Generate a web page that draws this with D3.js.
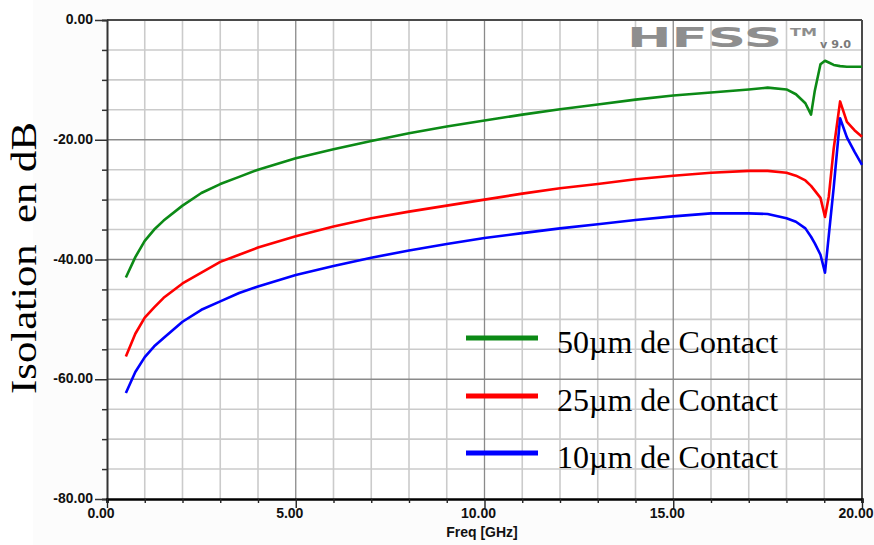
<!DOCTYPE html>
<html>
<head>
<meta charset="utf-8">
<script src="https://cdn.jsdelivr.net/npm/d3@7/dist/d3.min.js"></script>
<style>
  html, body { margin: 0; padding: 0; background: #ffffff; }
  svg { display: block; }
</style>
</head>
<body>
<svg id="chart" width="874" height="545"></svg>
<script>
// Frequency sweep (GHz) shared by all three contact widths
const freq = [0.5, 0.75, 1.0, 1.25, 1.5, 2.0, 2.5, 3.0, 3.5, 4.0, 5.0, 6.0, 7.0, 8.0, 9.0,
  10.0, 11.0, 12.0, 13.0, 14.0, 15.0, 16.0, 17.0, 17.5, 18.0, 18.25, 18.5, 18.65, 18.75,
  18.9, 19.02, 19.12, 19.25, 19.42, 19.6, 19.8, 20.0];

// Isolation (dB) for each contact width
const iso50 = [-43.0, -39.6, -36.9, -35.0, -33.5, -31.0, -28.9, -27.4, -26.2, -25.0, -23.1,
  -21.6, -20.2, -18.9, -17.8, -16.8, -15.8, -14.9, -14.1, -13.3, -12.6, -12.1, -11.6,
  -11.3, -11.6, -12.4, -13.9, -15.8, -11.8, -7.4, -6.8, -7.1, -7.5, -7.7, -7.8, -7.8, -7.8];
const iso25 = [-56.2, -52.4, -49.7, -48.0, -46.4, -44.0, -42.2, -40.4, -39.2, -38.0, -36.1,
  -34.5, -33.1, -32.0, -31.0, -30.0, -29.0, -28.1, -27.4, -26.6, -26.0, -25.5, -25.2,
  -25.2, -25.5, -26.0, -26.8, -27.7, -28.5, -29.7, -32.9, -29.5, -21.5, -13.6, -17.0, -18.4, -19.5];
const iso10 = [-62.3, -58.8, -56.3, -54.5, -53.1, -50.4, -48.4, -47.0, -45.6, -44.5, -42.6,
  -41.1, -39.7, -38.5, -37.4, -36.4, -35.6, -34.8, -34.1, -33.4, -32.8, -32.3, -32.3,
  -32.4, -33.1, -33.7, -34.8, -36.2, -37.3, -39.2, -42.2, -36.0, -28.0, -16.4, -19.6, -22.0, -24.2];

const seriesNames = ["50\u00b5m de Contact", "25\u00b5m de Contact", "10\u00b5m de Contact"];
const seriesColors = ["#0c8a16", "#ff0000", "#0000ff"];

const xTicks = [0, 5, 10, 15, 20];
const xTickLabels = ["0.00", "5.00", "10.00", "15.00", "20.00"];
const yTicks = [0, -20, -40, -60, -80];
const yTickLabels = ["0.00", "-20.00", "-40.00", "-60.00", "-80.00"];

const xTitle = "Freq [GHz]";
const yTitle = "Isolation\u00a0 en dB";

const svg = d3.select("#chart");

const x = d3.scaleLinear().domain([0, 20]).range([107, 862]);
const y = d3.scaleLinear().domain([-80, 0]).range([499, 20]);

// faint page tint to the right of the title strip
svg.append("rect").attr("x", 33).attr("y", 0).attr("width", 841).attr("height", 545)
  .attr("fill", "#fcfcfc");
svg.append("rect").attr("x", x(0)).attr("y", y(0))
  .attr("width", x(20) - x(0)).attr("height", y(-80) - y(0)).attr("fill", "#ffffff");

// minor grid: every 1 GHz and every 5 dB
const g = svg.append("g");
g.selectAll("line.vmin").data(d3.range(1, 20).filter(d => d % 5 !== 0))
  .join("line").attr("x1", d => x(d)).attr("x2", d => x(d))
  .attr("y1", y(0)).attr("y2", y(-80))
  .attr("stroke", "#cbcbcb").attr("stroke-width", 1.6);
g.selectAll("line.hmin").data(d3.range(-75, 0, 5).filter(d => d % 20 !== 0))
  .join("line").attr("y1", d => y(d)).attr("y2", d => y(d))
  .attr("x1", x(0)).attr("x2", x(20))
  .attr("stroke", "#cbcbcb").attr("stroke-width", 1.6);
// major grid
g.selectAll("line.vmaj").data([5, 10, 15])
  .join("line").attr("x1", d => x(d)).attr("x2", d => x(d))
  .attr("y1", y(0)).attr("y2", y(-80))
  .attr("stroke", "#8a8a8a").attr("stroke-width", 1.3);
g.selectAll("line.hmaj").data([-20, -40, -60])
  .join("line").attr("y1", d => y(d)).attr("y2", d => y(d))
  .attr("x1", x(0)).attr("x2", x(20))
  .attr("stroke", "#8a8a8a").attr("stroke-width", 1.3);

// HFSS logo
const logo = svg.append("g").attr("fill", "#8e8e8e")
  .style("font-family", "'DejaVu Sans', Arial, sans-serif").style("font-weight", "bold");
logo.append("text").attr("x", 627).attr("y", 47).attr("font-size", 26)
  .attr("textLength", 155).attr("lengthAdjust", "spacingAndGlyphs").text("HFSS");
logo.append("text").attr("x", 790).attr("y", 36).attr("font-size", 10)
  .attr("textLength", 27).attr("lengthAdjust", "spacingAndGlyphs").text("TM");
logo.append("text").attr("x", 820).attr("y", 48).attr("font-size", 10)
  .attr("fill", "#7a7a7a")
  .attr("textLength", 31).attr("lengthAdjust", "spacingAndGlyphs").text("v 9.0");

// frame: top and right borders, left and bottom axes
svg.append("line").attr("x1", x(0)).attr("x2", x(20)).attr("y1", y(0)).attr("y2", y(0))
  .attr("stroke", "#4a4a4a").attr("stroke-width", 2);
svg.append("line").attr("x1", x(20)).attr("x2", x(20)).attr("y1", y(0)).attr("y2", y(-80))
  .attr("stroke", "#4a4a4a").attr("stroke-width", 2);

// left axis with 5 dB minor ticks
const yAxis = d3.axisLeft(y).tickValues(d3.range(-80, 1, 5))
  .tickSize(5).tickFormat("");
const ya = svg.append("g").attr("transform", `translate(${x(0)},0)`).call(yAxis);
ya.select(".domain").attr("stroke", "#333").attr("stroke-width", 2);
ya.selectAll(".tick line").attr("stroke", "#333").attr("stroke-width", 1.5)
  .attr("x2", d => (d % 20 === 0 ? -12 : -5));

// bottom axis with 1 GHz minor ticks
const xAxis = d3.axisBottom(x).tickValues(d3.range(0, 21, 1)).tickSize(4).tickFormat("");
const xa = svg.append("g").attr("transform", `translate(0,${y(-80)})`).call(xAxis);
xa.select(".domain").attr("stroke", "#000").attr("stroke-width", 2.6);
xa.selectAll(".tick line").attr("stroke", "#222").attr("stroke-width", 1.4)
  .attr("y2", d => (d % 5 === 0 ? 9 : 4));

// tick labels
const lab = svg.append("g").style("font-family", "'Liberation Sans', Arial, sans-serif")
  .style("font-weight", "bold").attr("font-size", 14).attr("fill", "#111");
lab.selectAll("text.xl").data(xTicks).join("text")
  .attr("x", d => x(d) - 6).attr("y", 518).attr("text-anchor", "middle")
  .text((d, i) => xTickLabels[i]);
lab.selectAll("text.yl").data(yTicks).join("text")
  .attr("x", 93).attr("y", d => y(d) + 4).attr("text-anchor", "end")
  .text((d, i) => yTickLabels[i]);
lab.append("text").attr("x", 482).attr("y", 537).attr("text-anchor", "middle").text(xTitle);

// y axis title
svg.append("text")
  .attr("transform", "translate(36,258) rotate(-90)")
  .attr("text-anchor", "middle")
  .style("font-family", "'Liberation Serif', 'Times New Roman', serif")
  .attr("font-size", 35)
  .attr("textLength", 272).attr("lengthAdjust", "spacingAndGlyphs")
  .attr("fill", "#000").text(yTitle);

// curves
const series = [iso50, iso25, iso10];
const line = d3.line().x((d, i) => x(freq[i])).y(d => y(d));
svg.append("g").selectAll("path").data(series).join("path")
  .attr("d", d => line(d))
  .attr("fill", "none")
  .attr("stroke", (d, i) => seriesColors[i])
  .attr("stroke-width", 2.6)
  .attr("stroke-linejoin", "round");

// legend
const legY = [338, 396, 453];
const leg = svg.append("g");
leg.selectAll("line").data(seriesNames).join("line")
  .attr("x1", 466).attr("x2", 538)
  .attr("y1", (d, i) => legY[i]).attr("y2", (d, i) => legY[i])
  .attr("stroke", (d, i) => seriesColors[i]).attr("stroke-width", 5);
leg.selectAll("text").data(seriesNames).join("text")
  .attr("x", 557).attr("y", (d, i) => legY[i] + 15)
  .style("font-family", "'Liberation Serif', 'Times New Roman', serif")
  .attr("font-size", 32).attr("fill", "#000")
  .text(d => d);
</script>
</body>
</html>
